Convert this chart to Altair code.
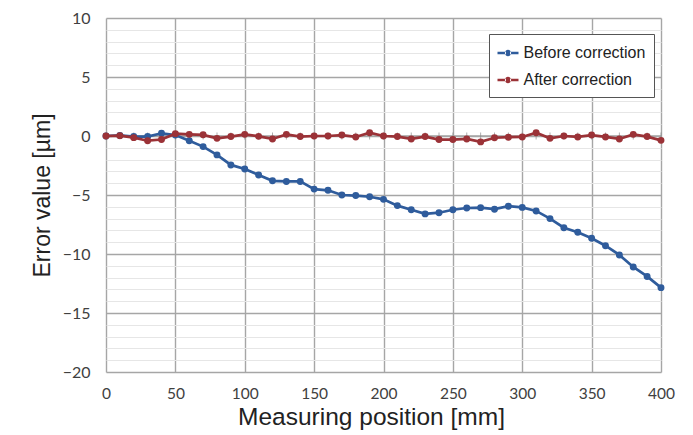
import altair as alt
import pandas as pd

positions = list(range(0, 401, 10))
before = [0, 0.05, -0.05, -0.05, 0.23, 0.08, -0.4, -0.9, -1.6, -2.45, -2.8,
          -3.3, -3.8, -3.85, -3.85, -4.5, -4.6, -5.0, -5.05, -5.15, -5.37,
          -5.9, -6.25, -6.6, -6.5, -6.25, -6.1, -6.07, -6.2, -5.95, -6.05,
          -6.35, -7.0, -7.77, -8.16, -8.67, -9.3, -10.08, -11.1, -11.9, -12.85]
after = [0, 0.03, -0.14, -0.4, -0.3, 0.2, 0.14, 0.1, -0.2, -0.05, 0.14,
         -0.03, -0.25, 0.14, -0.05, 0, 0, 0.08, -0.08, 0.28, 0.0,
         -0.05, -0.25, -0.05, -0.3, -0.3, -0.25, -0.5, -0.15, -0.1, -0.08,
         0.28, -0.2, 0, -0.08, 0.08, -0.08, -0.25, 0.14, -0.05, -0.37]
series_names = ["Before correction", "After correction"]
series_colors = ["#2f5c9c", "#9b3237"]
x_ticks = list(range(0, 401, 50))
y_ticks = list(range(-20, 11, 1))

df = pd.DataFrame({
    "pos": positions * 2,
    "val": before + after,
    "series": [series_names[0]] * len(positions) + [series_names[1]] * len(positions),
})
zero_df = pd.DataFrame({"pos": positions, "val": [0] * len(positions)})

tick_font = "Lato"
title_font = "Liberation Sans"

x_scale = alt.Scale(domain=[0, 400], nice=False)
y_scale = alt.Scale(domain=[-20, 10], nice=False)

x_enc = alt.X("pos:Q", scale=x_scale,
              axis=alt.Axis(values=x_ticks, title="Measuring position [mm]",
                            grid=True, gridColor="#a6a6a6", gridWidth=1.4,
                            domain=False, ticks=False, labelPadding=14,
                            labelFlush=False,
                            labelFont=tick_font, labelFontSize=15.5, labelColor="#404040",
                            titleFont=title_font, titleFontSize=24.5, titleFontWeight="normal",
                            titleColor="#222222", titleX=265, titleY=45,
                            titleAlign="center", titleBaseline="middle"))
y_enc = alt.Y("val:Q", scale=y_scale,
              axis=alt.Axis(values=y_ticks, title="Error value [µm]",
                            labelExpr="datum.value % 5 === 0 ? datum.label : ''",
                            labelOverlap=False, labelFlush=False,
                            grid=True,
                            gridColor=alt.condition("datum.value % 5 === 0",
                                                    alt.value("#a6a6a6"), alt.value("#e6e6e6")),
                            gridWidth=alt.condition("datum.value % 5 === 0",
                                                    alt.value(1.4), alt.value(1)),
                            domain=False, ticks=False, labelPadding=16,
                            labelFont=tick_font, labelFontSize=16, labelColor="#404040",
                            titleFont=title_font, titleFontSize=23, titleFontWeight="normal",
                            titleColor="#222222", titlePadding=8))

color_scale = alt.Scale(domain=series_names, range=series_colors)

legend_path = ("M-1,-0.11L-0.2,-0.11L-0.2,0.11L-1,0.11Z"
               "M0.2,-0.11L1,-0.11L1,0.11L0.2,0.11Z"
               "M-0.3,0A0.3,0.3 0 1,0 0.3,0A0.3,0.3 0 1,0 -0.3,0Z")

legend = alt.Legend(title=None, orient="none", legendX=383, legendY=16,
                    symbolType=legend_path, symbolSize=441, symbolStrokeWidth=0,
                    labelFont=title_font, labelFontSize=16, labelColor="#222222",
                    labelOffset=5, rowPadding=8, padding=8.5,
                    strokeColor="#555555", fillColor="white", labelLimit=300)

zero_rule = alt.Chart(zero_df).mark_rule(color="#a6a6a6", strokeWidth=1.4).encode(
    y=y_enc
).transform_filter("datum.pos === 0")

zero_ticks = alt.Chart(zero_df).mark_tick(orient="vertical", color="#8c8c8c",
                                           size=7, thickness=1).encode(
    x=x_enc, y=y_enc,
)

layers = [zero_rule, zero_ticks]
for i, name in enumerate(series_names):
    base = alt.Chart(df).transform_filter(alt.datum.series == name)
    line = base.mark_line(strokeWidth=2.7, color=series_colors[i]).encode(
        x=x_enc, y=y_enc,
    )
    pts = base.mark_point(filled=True, size=48, opacity=1).encode(
        x=x_enc, y=y_enc,
        color=alt.Color("series:N", scale=color_scale, legend=legend),
    )
    layers += [line, pts]

chart = alt.layer(*layers).properties(
    width=555, height=354,
    autosize=alt.AutoSizeParams(type="none"),
    padding={"left": 98, "top": 10, "right": 24, "bottom": 61},
    background="white",
).configure_view(stroke=None)

chart.save("out.html", embed_options={"renderer": "svg", "actions": False})
